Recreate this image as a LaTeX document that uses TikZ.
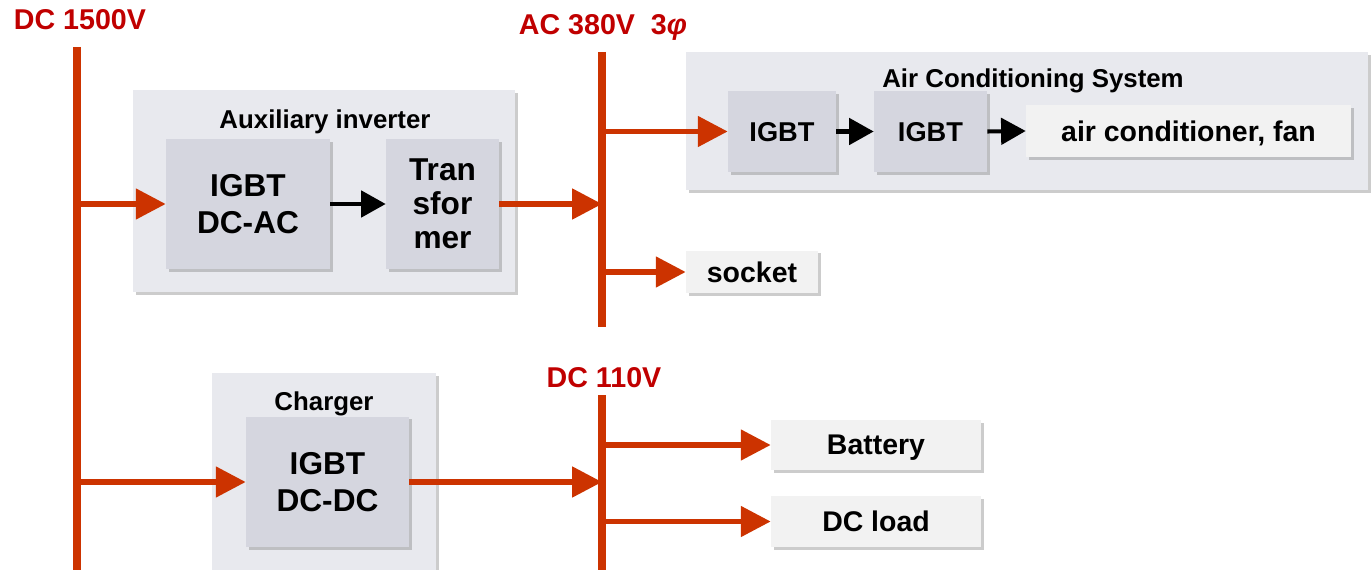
\documentclass[tikz,border=0pt]{standalone}
\usepackage{fontspec}
\setmainfont{Liberation Sans}
\usepackage{xcolor}
\usetikzlibrary{positioning}
\usetikzlibrary{arrows.meta}
\usetikzlibrary{shadows}

\definecolor{busred}{HTML}{CC3300}
\definecolor{labelred}{HTML}{C00000}
\definecolor{outerfill}{HTML}{E8E9EE}
\definecolor{innerfill}{HTML}{D5D6DF}
\definecolor{loadfill}{HTML}{F2F2F2}

\begin{document}
\begin{tikzpicture}[x=0.02cm, y=-0.02cm,
    softshadow/.style={drop shadow={shadow xshift=1.6pt, shadow yshift=-1.6pt, opacity=0.4}},
    outerbox/.style={fill=outerfill, softshadow, inner sep=0pt},
    unitbox/.style={fill=innerfill, softshadow, align=center, inner sep=0pt,
      font=\fontsize{18}{21}\bfseries\selectfont},
    smallunit/.style={fill=innerfill, softshadow, inner sep=0pt, text depth=0pt,
      font=\fontsize{15.5}{18}\bfseries\selectfont},
    loadbox/.style={fill=loadfill, softshadow, inner sep=0pt, text depth=0pt,
      font=\fontsize{16.2}{19}\bfseries\selectfont},
    boxtitle/.style={text depth=0pt, font=\fontsize{14.7}{17}\bfseries\selectfont},
    buslabel/.style={text=labelred, font=\fontsize{16.3}{19}\bfseries\selectfont},
    bus/.style={busred, line width=4.5pt},
    feed/.style={busred, line width=3pt, -{Triangle[length=17pt, width=17pt]}},
    flow/.style={black, line width=2.3pt, -{Triangle[length=14pt, width=15pt]}}]
    \useasboundingbox (0,0) rectangle (1371,570);

    % Containers
    \node[outerbox, minimum width=7.64cm, minimum height=4.04cm] (auxinv) at (324,191) {};
    \node[outerbox, minimum width=13.64cm, minimum height=2.76cm] (acsys) at (1027,121) {};
    \node[outerbox, minimum width=4.48cm, minimum height=4.04cm] (charger) at (324,474) {};
    \node[boxtitle] (auxtitle) at (325,119) {Auxiliary inverter};
    \node[boxtitle] (actitle) at (1033,78) {Air Conditioning System};
    \node[boxtitle] (chgtitle) at (324,401) {Charger};

    % Units
    \node[unitbox, minimum width=3.28cm, minimum height=2.6cm] (dcac) at (248,204) {IGBT\\DC-AC};
    \node[unitbox, minimum width=2.26cm, minimum height=2.6cm,
      font=\fontsize{18}{19.5}\bfseries\selectfont] (xfmr) at (442.5,204) {Tran\\sfor\\mer};
    \node[unitbox, minimum width=3.26cm, minimum height=2.62cm] (dcdc) at (327.5,482) {IGBT\\DC-DC};
    \node[smallunit, minimum width=2.16cm, minimum height=1.62cm] (igbta) at (782,131.5) {IGBT};
    \node[smallunit, minimum width=2.26cm, minimum height=1.62cm] (igbtb) at (930.5,131.5) {IGBT};

    % Loads
    \node[loadbox, minimum width=6.5cm, minimum height=1.04cm] (acfan) at (1188.5,131) {air conditioner, fan};
    \node[loadbox, minimum width=2.64cm, minimum height=0.86cm] (socket) at (752,272) {socket};
    \node[loadbox, minimum width=4.2cm, minimum height=1.0cm] (battery) at (876,445) {Battery};
    \node[loadbox, minimum width=4.2cm, minimum height=1.02cm] (dcload) at (876,521.5) {DC load};

    % Buses
    \coordinate (hvtop) at (77,47);
    \coordinate (hvbot) at (77,575);
    \coordinate (actop) at (602,52);
    \coordinate (acbot) at (602,327);
    \coordinate (lvtop) at (602,395);
    \coordinate (lvbot) at (602,575);
    \draw[bus] (hvtop) -- (hvbot);
    \draw[bus] (actop) -- (acbot);
    \draw[bus] (lvtop) -- (lvbot);
    \node[buslabel] (hvlabel) at (80,20) {DC 1500V};
    \node[buslabel] (aclabel) at (603,27) {AC 380V\ \ 3\textit{φ}};
    \node[buslabel] (lvlabel) at (604,378) {DC 110V};

    % Power feeds
    \draw[feed] (hvtop |- dcac.west) -- (dcac.west);
    \draw[feed] (xfmr.east) -- (actop |- xfmr.east);
    \draw[feed] (actop |- igbta.west) -- (igbta.west);
    \draw[feed] (actop |- socket.west) -- (socket.west);
    \draw[feed] (hvtop |- dcdc.west) -- (dcdc.west);
    \draw[feed] (dcdc.east) -- (lvtop |- dcdc.east);
    \draw[feed] (lvtop |- battery.west) -- (battery.west);
    \draw[feed] (lvtop |- dcload.west) -- (dcload.west);

    % Internal flow
    \draw[flow] (dcac.east) -- (xfmr.west);
    \draw[flow] (igbta.east) -- (igbtb.west);
    \draw[flow] (igbtb.east) -- (acfan.west);
\end{tikzpicture}
\end{document}
